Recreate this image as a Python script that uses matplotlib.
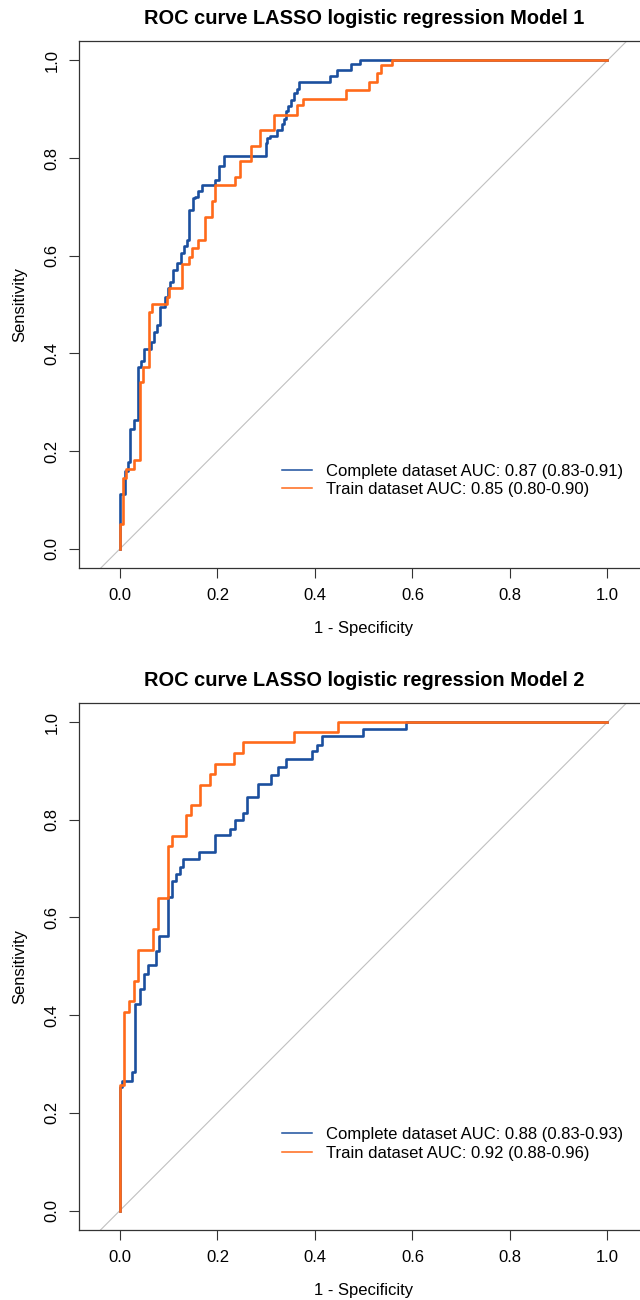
import matplotlib
matplotlib.use("Agg")
import matplotlib.pyplot as plt
from matplotlib.lines import Line2D

plt.rcParams['font.family'] = ['Liberation Sans', 'DejaVu Sans']

# ROC step points: each (fpr, tpr) is the end of a
# horizontal run, drawn with steps-pre
# Model 1
m1_complete_fpr = [0, 0.011, 0.017, 0.021, 0.028, 0.038, 0.044, 0.050, 0.064, 0.070,
                   0.076, 0.082, 0.092, 0.099, 0.103, 0.109, 0.118, 0.125, 0.131, 0.137,
                   0.142, 0.149, 0.154, 0.160, 0.168, 0.196, 0.204, 0.214, 0.300, 0.301,
                   0.307, 0.322, 0.332, 0.337, 0.341, 0.344, 0.350, 0.358, 0.363, 0.368,
                   0.431, 0.445, 0.474, 0.493, 1.0]
m1_complete_tpr = [0, 0.112, 0.160, 0.177, 0.246, 0.263, 0.372, 0.385, 0.410, 0.424,
                   0.444, 0.458, 0.496, 0.516, 0.533, 0.547, 0.571, 0.585, 0.605, 0.619,
                   0.632, 0.694, 0.718, 0.721, 0.732, 0.744, 0.756, 0.783, 0.805, 0.831,
                   0.841, 0.845, 0.858, 0.869, 0.879, 0.896, 0.906, 0.919, 0.934, 0.942,
                   0.955, 0.968, 0.980, 0.992, 1.0]
m1_train_fpr = [0, 0.007, 0.012, 0.028, 0.041, 0.047, 0.060, 0.066, 0.097, 0.101,
                0.127, 0.142, 0.148, 0.160, 0.175, 0.188, 0.195, 0.235, 0.247, 0.269,
                0.288, 0.316, 0.363, 0.376, 0.463, 0.510, 0.528, 0.536, 0.558, 1.0]
m1_train_tpr = [0, 0.051, 0.146, 0.164, 0.181, 0.342, 0.372, 0.485, 0.502, 0.516,
                0.533, 0.583, 0.598, 0.615, 0.632, 0.679, 0.713, 0.744, 0.761, 0.793,
                0.825, 0.858, 0.889, 0.908, 0.921, 0.939, 0.955, 0.975, 0.990, 1.0]

# Model 2
m2_complete_fpr = [0, 0.005, 0.024, 0.030, 0.041, 0.049, 0.057, 0.074, 0.080, 0.098,
                   0.107, 0.116, 0.123, 0.129, 0.163, 0.196, 0.226, 0.237, 0.252, 0.261,
                   0.284, 0.310, 0.325, 0.341, 0.394, 0.404, 0.414, 0.498, 0.587, 1.0]
m2_complete_tpr = [0, 0.253, 0.266, 0.283, 0.423, 0.454, 0.485, 0.502, 0.532, 0.563,
                   0.642, 0.674, 0.689, 0.703, 0.719, 0.735, 0.768, 0.782, 0.799, 0.814,
                   0.846, 0.874, 0.892, 0.907, 0.924, 0.941, 0.954, 0.971, 0.986, 1.0]
m2_train_fpr = [0, 0.009, 0.018, 0.028, 0.037, 0.067, 0.078, 0.098, 0.106, 0.136,
                0.146, 0.165, 0.184, 0.194, 0.233, 0.252, 0.358, 0.448, 1.0]
m2_train_tpr = [0, 0.256, 0.406, 0.428, 0.470, 0.534, 0.577, 0.640, 0.746, 0.767,
                0.809, 0.831, 0.872, 0.894, 0.915, 0.937, 0.959, 0.980, 1.0]

titles = ['ROC curve LASSO logistic regression Model 1',
          'ROC curve LASSO logistic regression Model 2']
legend_labels = [['Complete dataset AUC: 0.87 (0.83-0.91)', 'Train dataset AUC: 0.85 (0.80-0.90)'],
                 ['Complete dataset AUC: 0.88 (0.83-0.93)', 'Train dataset AUC: 0.92 (0.88-0.96)']]
ticks = [0.0, 0.2, 0.4, 0.6, 0.8, 1.0]
tick_labels = ['0.0', '0.2', '0.4', '0.6', '0.8', '1.0']

blue = '#1b4f9e'
orange = '#ff6a1a'
boxc = '#333333'

fig = plt.figure(figsize=(6.4, 13), dpi=100)
ax1 = fig.add_axes([0.1234, 0.5628, 0.8898, 0.4058])
ax2 = fig.add_axes([0.1234, 0.0538, 0.8898, 0.4058])

panels = [(ax1, m1_complete_fpr, m1_complete_tpr, m1_train_fpr, m1_train_tpr, 0.198),
          (ax2, m2_complete_fpr, m2_complete_tpr, m2_train_fpr, m2_train_tpr, 0.195)]

for i, (ax, cf, ct, tf, tt, leg_y) in enumerate(panels):
    ax.axline((0, 0), slope=1, color='#c0c0c0', lw=0.8, zorder=1)
    ax.plot(cf, ct, drawstyle='steps-pre', color=blue, lw=1.9, zorder=2)
    ax.plot(tf, tt, drawstyle='steps-pre', color=orange, lw=1.9, zorder=3)

    ax.set_xlim(-0.084, 1.084)
    ax.set_ylim(-0.04, 1.04)
    ax.set_xticks(ticks)
    ax.set_xticklabels(tick_labels)
    ax.set_yticks(ticks)
    ax.set_yticklabels(tick_labels, rotation=90, va='center')
    ax.tick_params(length=7, width=0.8, color=boxc, labelsize=12, pad=7)
    for s in ax.spines.values():
        s.set_color(boxc)
        s.set_linewidth(0.9)

    ax.set_title(titles[i], fontsize=14.4, fontweight='bold', pad=12)
    ax.set_xlabel('1 - Specificity', fontsize=12)
    ax.set_ylabel('Sensitivity', fontsize=12)
    ax.xaxis.set_label_coords(0.5, -0.1137)
    ax.xaxis.label.set_va('center')
    ax.yaxis.set_label_coords(-0.1036, 0.5)
    ax.yaxis.label.set_va('center')

    handles = [Line2D([], [], color=blue, lw=1.1), Line2D([], [], color=orange, lw=1.1)]
    ax.legend(handles, legend_labels[i], loc='upper left', bbox_to_anchor=(0.356, leg_y),
              frameon=False, fontsize=12, borderaxespad=0, borderpad=0,
              handlelength=1.8, handletextpad=0.86, labelspacing=0.2)

fig.savefig('out.png', dpi=100)
